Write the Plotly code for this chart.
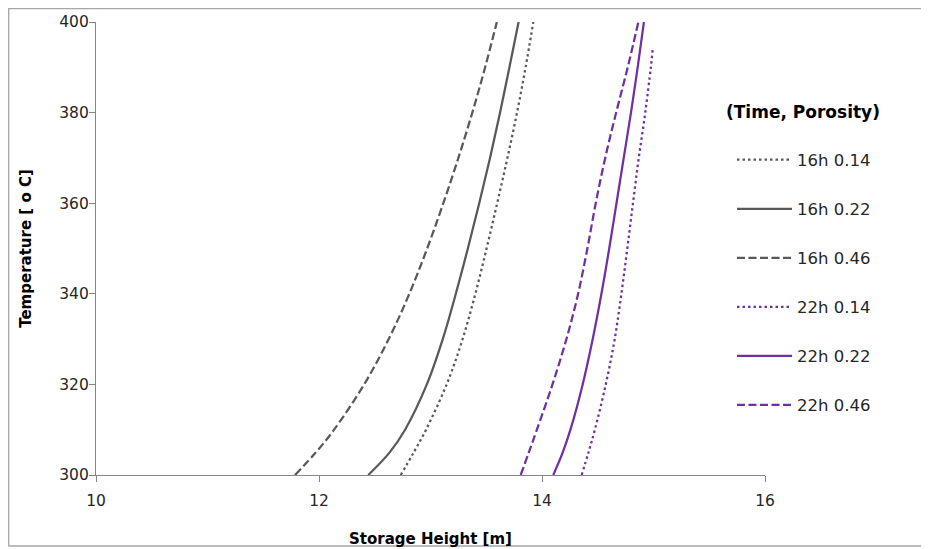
import plotly.graph_objects as go

# ---- data ----
temps = [300, 305, 310, 320, 330, 340, 350, 360, 370, 380, 390, 400]

t16_014_x = [12.733, 12.850, 12.960, 13.145, 13.288, 13.402, 13.503, 13.598, 13.690, 13.776, 13.853, 13.922]
t16_014_y = temps

t16_022_x = [12.442, 12.634, 12.772, 12.967, 13.110, 13.227, 13.335, 13.437, 13.534, 13.624, 13.708, 13.790]
t16_022_y = temps

t16_046_x = [11.785, 11.972, 12.135, 12.405, 12.625, 12.810, 12.970, 13.115, 13.250, 13.375, 13.490, 13.595]
t16_046_y = temps

t22_014_x = [14.356, 14.417, 14.474, 14.572, 14.652, 14.712, 14.765, 14.816, 14.868, 14.926, 14.976, 14.993]
t22_014_y = [300, 305, 310, 320, 330, 340, 350, 360, 370, 380, 390, 394]

t22_022_x = [14.101, 14.186, 14.255, 14.365, 14.455, 14.533, 14.603, 14.668, 14.733, 14.798, 14.858, 14.914]
t22_022_y = temps

t22_046_x = [13.809, 13.882, 13.954, 14.094, 14.219, 14.324, 14.407, 14.482, 14.567, 14.665, 14.769, 14.864]
t22_046_y = temps

series_names = ["16h 0.14", "16h 0.22", "16h 0.46", "22h 0.14", "22h 0.22", "22h 0.46"]
series_x = [t16_014_x, t16_022_x, t16_046_x, t22_014_x, t22_022_x, t22_046_x]
series_y = [t16_014_y, t16_022_y, t16_046_y, t22_014_y, t22_022_y, t22_046_y]

x_ticks = [10, 12, 14, 16]
y_ticks = [300, 320, 340, 360, 380, 400]

# ---- styles ----
GRAY = "#595959"
PURPLE = "#7030A0"
colors = [GRAY, GRAY, GRAY, PURPLE, PURPLE, PURPLE]
DOT = "2.5px,3px"
DASH = "8px,3.5px"
dashes = [DOT, "solid", DASH, DOT, "solid", DASH]
FONT = "DejaVu Sans, Verdana, sans-serif"

fig = go.Figure()
for i, name in enumerate(series_names):
    fig.add_trace(go.Scatter(
        x=series_x[i], y=series_y[i], mode="lines", name=name,
        legendgroup=name,
        line=dict(color=colors[i], width=2.25, dash=dashes[i], shape="spline", smoothing=1.0),
    ))

# The page body adds an 8px offset; target pixel positions are in page coordinates.
OFF = 8
W, H = 929, 549
PLOT_L, PLOT_R, PLOT_T, PLOT_B = 96, 765, 22, 475   # page px of plot area
L = PLOT_L - OFF
T = PLOT_T - OFF
R = W - (PLOT_R - OFF)
B = H - (PLOT_B - OFF)
PW, PH = PLOT_R - PLOT_L, PLOT_B - PLOT_T

def px2paper_x(px):
    return (px - PLOT_L) / PW

def px2paper_y(py):
    return (PLOT_B - py) / PH

axis_col = "#868686"
fig.update_layout(
    width=W, height=H,
    margin=dict(l=L, r=R, t=T, b=B, autoexpand=False),
    paper_bgcolor="white", plot_bgcolor="white",
    font=dict(family=FONT, size=15.5, color="#262626"),
    xaxis=dict(
        range=[10, 16], tickvals=x_ticks, showgrid=False, zeroline=False, automargin=False,
        showline=True, linecolor=axis_col, linewidth=1.3,
        ticks="outside", ticklen=6, tickcolor=axis_col, ticklabelstandoff=5,
        tickfont=dict(size=15.5, color="#262626"),
        title=dict(text="<b>Storage Height [m]</b>", font=dict(size=15, color="#000000"), standoff=24),
    ),
    yaxis=dict(
        range=[300, 400], tickvals=y_ticks, showgrid=False, zeroline=False, automargin=False,
        showline=True, linecolor=axis_col, linewidth=1.3,
        ticks="outside", ticklen=6, tickcolor=axis_col, ticklabelstandoff=-3,
        tickfont=dict(size=15.5, color="#262626"),
        title=dict(text="<b>Temperature [ o C]</b>", font=dict(size=15, color="#000000"), standoff=23),
    ),
    legend=dict(
        x=px2paper_x(732), xanchor="left", y=px2paper_y(142.5), yanchor="top",
        font=dict(size=16.5, color="#262626"),
        tracegroupgap=24.6, itemwidth=55, bgcolor="rgba(0,0,0,0)",
    ),
    showlegend=True,
)

# legend heading
fig.add_annotation(text="<b>(Time, Porosity)</b>", xref="paper", yref="paper",
                   x=px2paper_x(803.5), y=px2paper_y(112), xanchor="center", yanchor="middle",
                   showarrow=False, font=dict(family=FONT, size=17, color="#000000"))

# outer chart frame
fig.add_shape(type="rect", xref="paper", yref="paper",
              x0=px2paper_x(OFF + 0.7), x1=px2paper_x(925),
              y0=px2paper_y(546), y1=px2paper_y(OFF + 0.7),
              line=dict(color="#a6a6a6", width=1.3), fillcolor="rgba(0,0,0,0)", layer="below")

fig.write_html("out.html")
